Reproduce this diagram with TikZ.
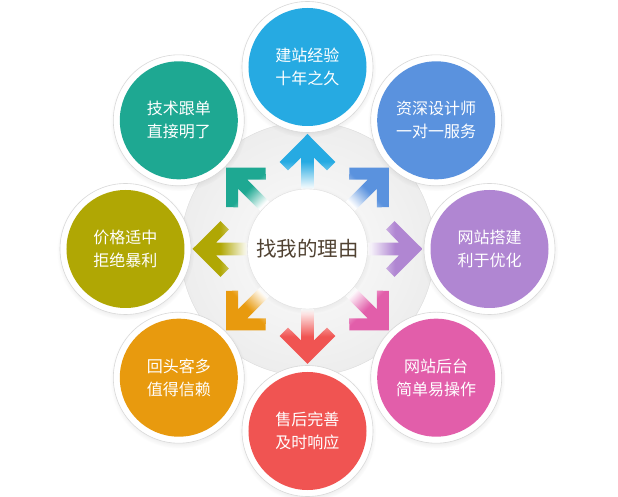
\documentclass[tikz,border=0pt]{standalone}
\usepackage{fontspec}
\newfontfamily\cjk{Noto Sans CJK SC}
\usetikzlibrary{shadows}
\definecolor{skyblue}{RGB}{38,170,226}
\definecolor{cornblue}{RGB}{90,146,222}
\definecolor{lilac}{RGB}{176,134,210}
\definecolor{rosepink}{RGB}{226,94,170}
\definecolor{coral}{RGB}{240,84,82}
\definecolor{amber}{RGB}{232,154,14}
\definecolor{olivegold}{RGB}{176,167,4}
\definecolor{teal}{RGB}{30,168,146}
\definecolor{inkbrown}{RGB}{80,66,50}
\tikzset{
  rim/.style={circle, fill=white, draw=gray!30, line width=0.6pt, minimum size=131pt, inner sep=0pt,
    circular drop shadow={shadow xshift=0pt, shadow yshift=-2pt, opacity=0.22, shadow scale=1.05}},
  reason/.style={circle, minimum size=118pt, inner sep=0pt, text=white, align=center,
    font=\cjk\fontsize{16}{23}\selectfont},
  core/.style={circle, fill=white, draw=gray!25, minimum size=120pt, inner sep=0pt, text=inkbrown,
    font=\cjk\fontsize{20.5}{24}\selectfont,
    circular drop shadow={shadow xshift=0pt, shadow yshift=-1pt, opacity=0.15, shadow scale=1.06}}
}
\begin{document}
\begin{tikzpicture}[x=1pt,y=1pt]
 \useasboundingbox (-307.5,-248) rectangle (310.5,249);
 \shade[inner color=gray!2, outer color=gray!14, draw=gray!28] (0,0) circle (127);
 \foreach \a/\c/\n/\t in {90/skyblue/build/{建站经验\\十年之久},
   45/cornblue/design/{资深设计师\\一对一服务},
   0/lilac/optimize/{网站搭建\\利于优化},
   -45/rosepink/backend/{网站后台\\简单易操作},
   -90/coral/service/{售后完善\\及时响应},
   -135/amber/trust/{回头客多\\值得信赖},
   180/olivegold/price/{价格适中\\拒绝暴利},
   135/teal/follow/{技术跟单\\直接明了}}{
  \node[rim] (\n rim) at (\a:182) {};
  \node[reason, fill=\c] (\n) at (\a:182) {\t};
 }
 \foreach \a/\c [evaluate=\a as \sa using \a-90] in {90/skyblue, 45/cornblue, 0/lilac, -45/rosepink,
   -90/coral, -135/amber, 180/olivegold, 135/teal}
  \shade[top color=\c, bottom color=white, middle color=\c, shading angle=\sa]
   (\a:115) -- (\a+17.8:91.4) -- (\a+13.95:80.9) -- (\a+4.06:91.7) -- (\a+6.18:60.35)
   -- (\a-6.18:60.35) -- (\a-4.06:91.7) -- (\a-13.95:80.9) -- (\a-17.8:91.4) -- cycle;
 \node[core] (why) at (0,0) {找我的理由};
\end{tikzpicture}
\end{document}
